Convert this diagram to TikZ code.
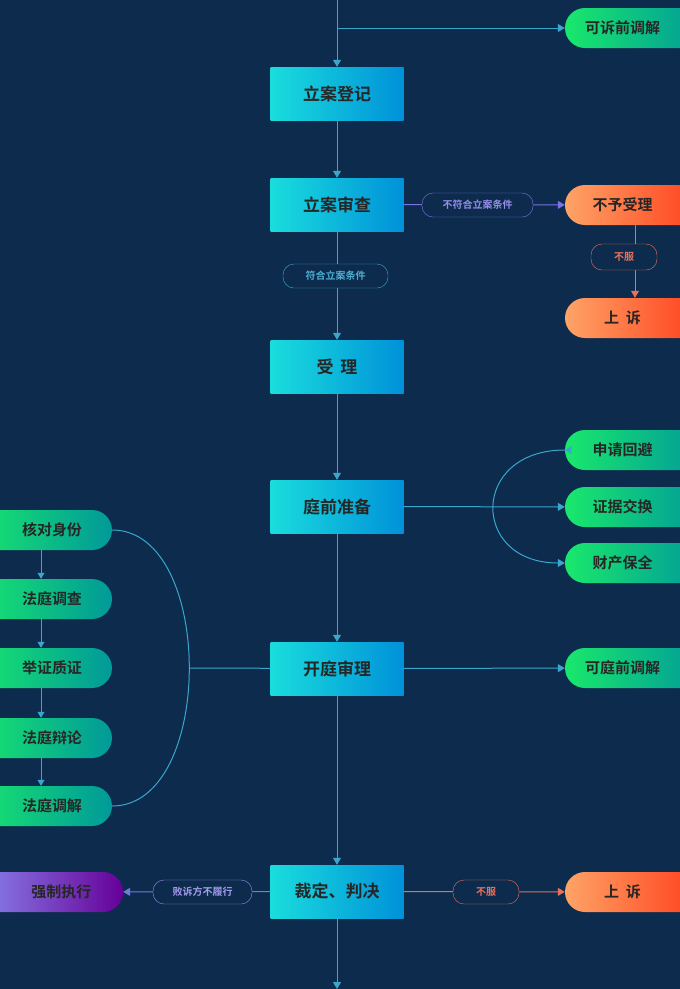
\documentclass[tikz,border=0pt]{standalone}
\usepackage{fontspec}
\setmainfont{Noto Sans CJK SC}[BoldFont={Noto Sans CJK SC Bold}]
\usetikzlibrary{arrows.meta}
\definecolor{bg}{HTML}{0D2B4C}
\definecolor{ln}{HTML}{3AA6CC}
\definecolor{pu}{HTML}{7B72E6}
\definecolor{rd}{HTML}{E8705C}
\begin{document}
\begin{tikzpicture}[x=1pt,y=-1pt,
 box/.style={minimum width=133pt,minimum height=53pt,left color=cyan!70!teal!90!white,right color=cyan!60!blue!70!teal,inner sep=0,font=\bfseries\fontsize{17}{17}\selectfont,text=black!85},
 gp/.style={rounded corners=20pt,minimum height=40pt,inner sep=0,left color=green!60!cyan!90!black!90,right color=teal!80!cyan,font=\bfseries\fontsize{15}{15}\selectfont,text=black!85},
 op/.style={gp,left color=orange!80!red!60!white,right color=red!70!orange!90!white},
 pp/.style={gp,left color=pu!90!white,right color=violet!80!blue},
 lab/.style={draw,rounded corners=11pt,minimum height=24pt,inner sep=0,fill=bg,font=\bfseries\fontsize{10}{10}\selectfont},
 ar/.style={draw=ln,line width=1pt,-{Triangle[length=7pt,width=8pt]}},
 pl/.style={draw=ln,line width=1pt}]
\fill[bg] (0,0) rectangle (680,989);
\useasboundingbox (0,0) rectangle (680,989);
\node[box] (b1) at (337,93.5) {立案登记};
\node[box] (b2) at (337,204.5) {立案审查};
\node[box] (b3) at (337,366.5) {受\,\ 理};
\node[box] (b4) at (337,506.5) {庭前准备};
\node[box] (b5) at (337,668.5) {开庭审理};
\node[box] (b6) at (337,891.5) {裁定、判决};
\node[gp,minimum width=140pt] (r0) at (635,28) {\hspace*{-25pt}可诉前调解};
\node[op,minimum width=140pt] (r1) at (635,205) {\hspace*{-25pt}不予受理};
\node[op,minimum width=140pt] (r2) at (635,318) {\hspace*{-25pt}上\ \ 诉};
\node[gp,minimum width=140pt] (r3) at (635,450) {\hspace*{-25pt}申请回避};
\node[gp,minimum width=140pt] (r4) at (635,507) {\hspace*{-25pt}证据交换};
\node[gp,minimum width=140pt] (r5) at (635,563) {\hspace*{-25pt}财产保全};
\node[gp,minimum width=140pt] (r6) at (635,668) {\hspace*{-25pt}可庭前调解};
\node[op,minimum width=140pt] (r7) at (635,892) {\hspace*{-25pt}上\ \ 诉};
\node[pp,minimum width=143pt] (e) at (51.5,892) {\hspace*{20pt}强制执行};
\foreach \n/\y/\t in {l1/530/核对身份,l2/599/法庭调查,l3/668/举证质证,l4/738/法庭辩论,l5/806/法庭调解}
  \node[gp,minimum width=142pt] (\n) at (41,\y) {\hspace*{22pt}\t};
\coordinate (t0) at (337,0);
\coordinate (tb) at (337,28);
\coordinate (end) at (337,989);
% main column
\draw[ar] (t0) -- (b1);
\draw[ar] (tb) -- (r0.west);
\draw[ar] (b1) -- (b2);
\draw[ar] (b2) -- (b3);
\draw[ar] (b3) -- (b4);
\draw[ar] (b4) -- (b5);
\draw[ar] (b5) -- (b6);
\draw[ar] (b6) -- (end);
\draw[ar,draw=pu] (b2) -- (r1);
\draw[ar,draw=rd] (r1) -- (r2);
\draw[ar,draw=rd] (b6) -- (r7);
\draw[ar,draw=pu!80!ln] (b6) -- (e);
\draw[ar] (b5) -- (r6);
\draw[ar] (b4) -- (r4);
\draw[ar] (r3.west) .. controls (470,450) and (470,563) .. (r5.west);
\draw[ar] (505,478) -- ++(0,0.01) (r3.west) -- ++(-0.1,0);
\draw[pl] (l1.east) .. controls (215,530) and (215,806) .. (l5.east);
\draw[pl] (190,668) -- (b5);
\foreach \a/\b in {l1/l2,l2/l3,l3/l4,l4/l5}
  \draw[ar,line width=0.8pt,-{Triangle[length=6pt,width=7pt]}] (\a) -- (\b);
% labels
\node[lab,draw=pu,text=pu!80!white,minimum width=111pt] (k1) at (477.5,205) {不符合立案条件};
\node[lab,draw=ln,text=ln!90!white,minimum width=105pt] (k2) at (335.5,276) {符合立案条件};
\node[lab,draw=rd,text=rd,minimum width=66pt,minimum height=26pt] (k3) at (624,257) {不服};
\node[lab,draw=pu!80!white,text=pu!70!white,minimum width=99pt] (k4) at (202.5,892) {败诉方不履行};
\node[lab,draw=rd,text=rd,minimum width=66pt] (k5) at (486,892) {不服};
\end{tikzpicture}
\end{document}
